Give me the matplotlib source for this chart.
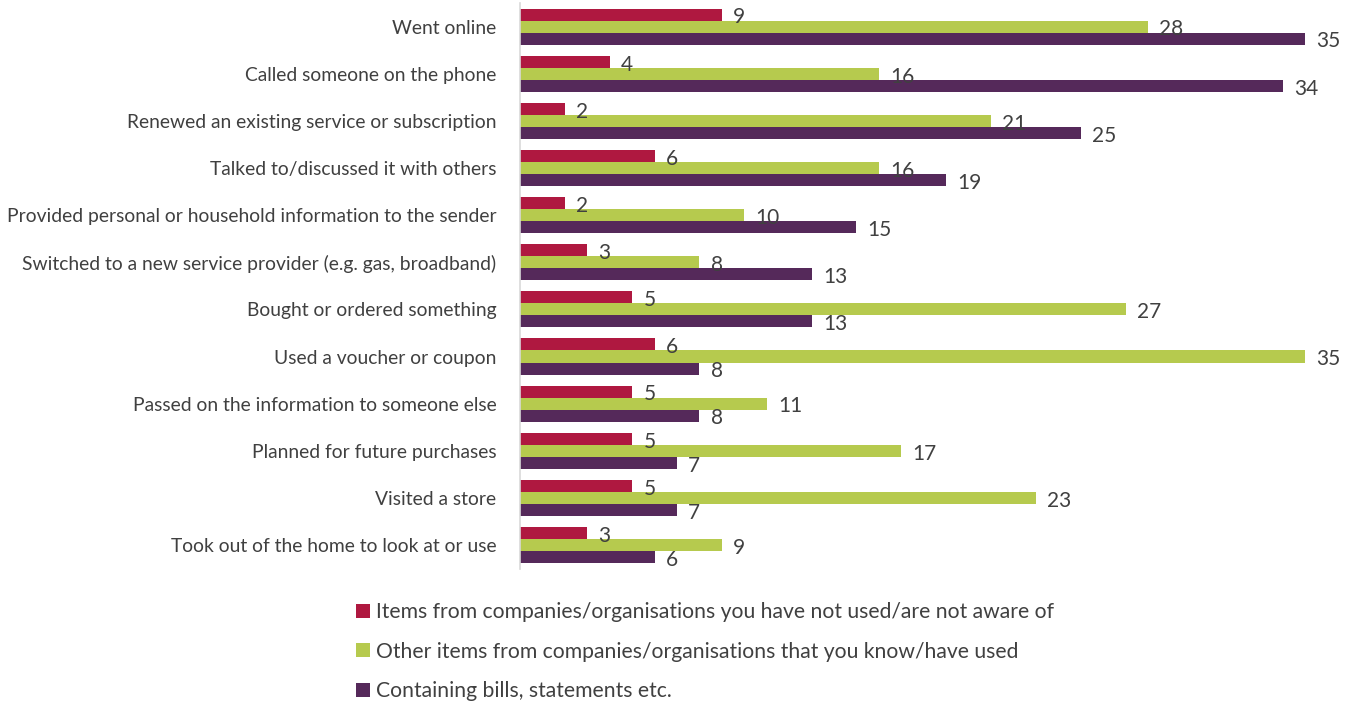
import numpy as np
import matplotlib
matplotlib.use("Agg")
import matplotlib.pyplot as plt

plt.rcParams['font.family'] = ['Lato', 'DejaVu Sans']

categories = [
    "Went online",
    "Called someone on the phone",
    "Renewed an existing service or subscription",
    "Talked to/discussed it with others",
    "Provided personal or household information to the sender",
    "Switched to a new service provider (e.g. gas, broadband)",
    "Bought or ordered something",
    "Used a voucher or coupon",
    "Passed on the information to someone else",
    "Planned for future purchases",
    "Visited a store",
    "Took out of the home to look at or use",
]
not_aware = [9, 4, 2, 6, 2, 3, 5, 6, 5, 5, 5, 3]
known = [28, 16, 21, 16, 10, 8, 27, 35, 11, 17, 23, 9]
bills = [35, 34, 25, 19, 15, 13, 13, 8, 8, 7, 7, 6]

series_names = [
    "Items from companies/organisations you have not used/are not aware of",
    "Other items from companies/organisations that you know/have used",
    "Containing bills, statements etc.",
]
farben = ["#AF1840", "#B6CA4E", "#55295A"]
textfarbe = "#404040"

fig = plt.figure(figsize=(13.54, 7.04), dpi=100)
ax = fig.add_axes([520 / 1354, 1 - 568.6 / 704, (36.5 * 22.43) / 1354, 565.6 / 704])

y = np.arange(len(categories))
h = 0.255
handles = []
for i, (werte, name, farbe) in enumerate(zip([not_aware, known, bills], series_names, farben)):
    pos = y + (i - 1) * h
    b = ax.barh(pos, werte, height=h, color=farbe, label=name)
    handles.append(b)
    # Werte rechts neben die Balken schreiben
    for p, v in zip(pos, werte):
        ax.text(v + 0.5, p + 0.06, str(v), va='center', ha='left',
                fontsize=15, color=textfarbe)

ax.set_xlim(0, 36.5)
ax.set_ylim(len(categories) - 0.5, -0.5)
ax.set_yticks(y)
ax.set_yticklabels(categories, fontsize=13.85, color=textfarbe)
ax.tick_params(axis='y', length=0, pad=17)
ax.set_xticks([])
for s in ['top', 'right', 'bottom']:
    ax.spines[s].set_visible(False)
ax.spines['left'].set_color('#D9D9D9')
ax.spines['left'].set_linewidth(1.2)

leg = fig.legend(handles=handles, loc='upper left', bbox_to_anchor=(356 / 1354, 1 - 602 / 704),
                 frameon=False, fontsize=15.2, handlelength=0.65, handleheight=0.65,
                 handletextpad=0.3, labelspacing=0.93, borderpad=0, borderaxespad=0)
for t in leg.get_texts():
    t.set_color(textfarbe)

plt.savefig("out.png", dpi=100)
